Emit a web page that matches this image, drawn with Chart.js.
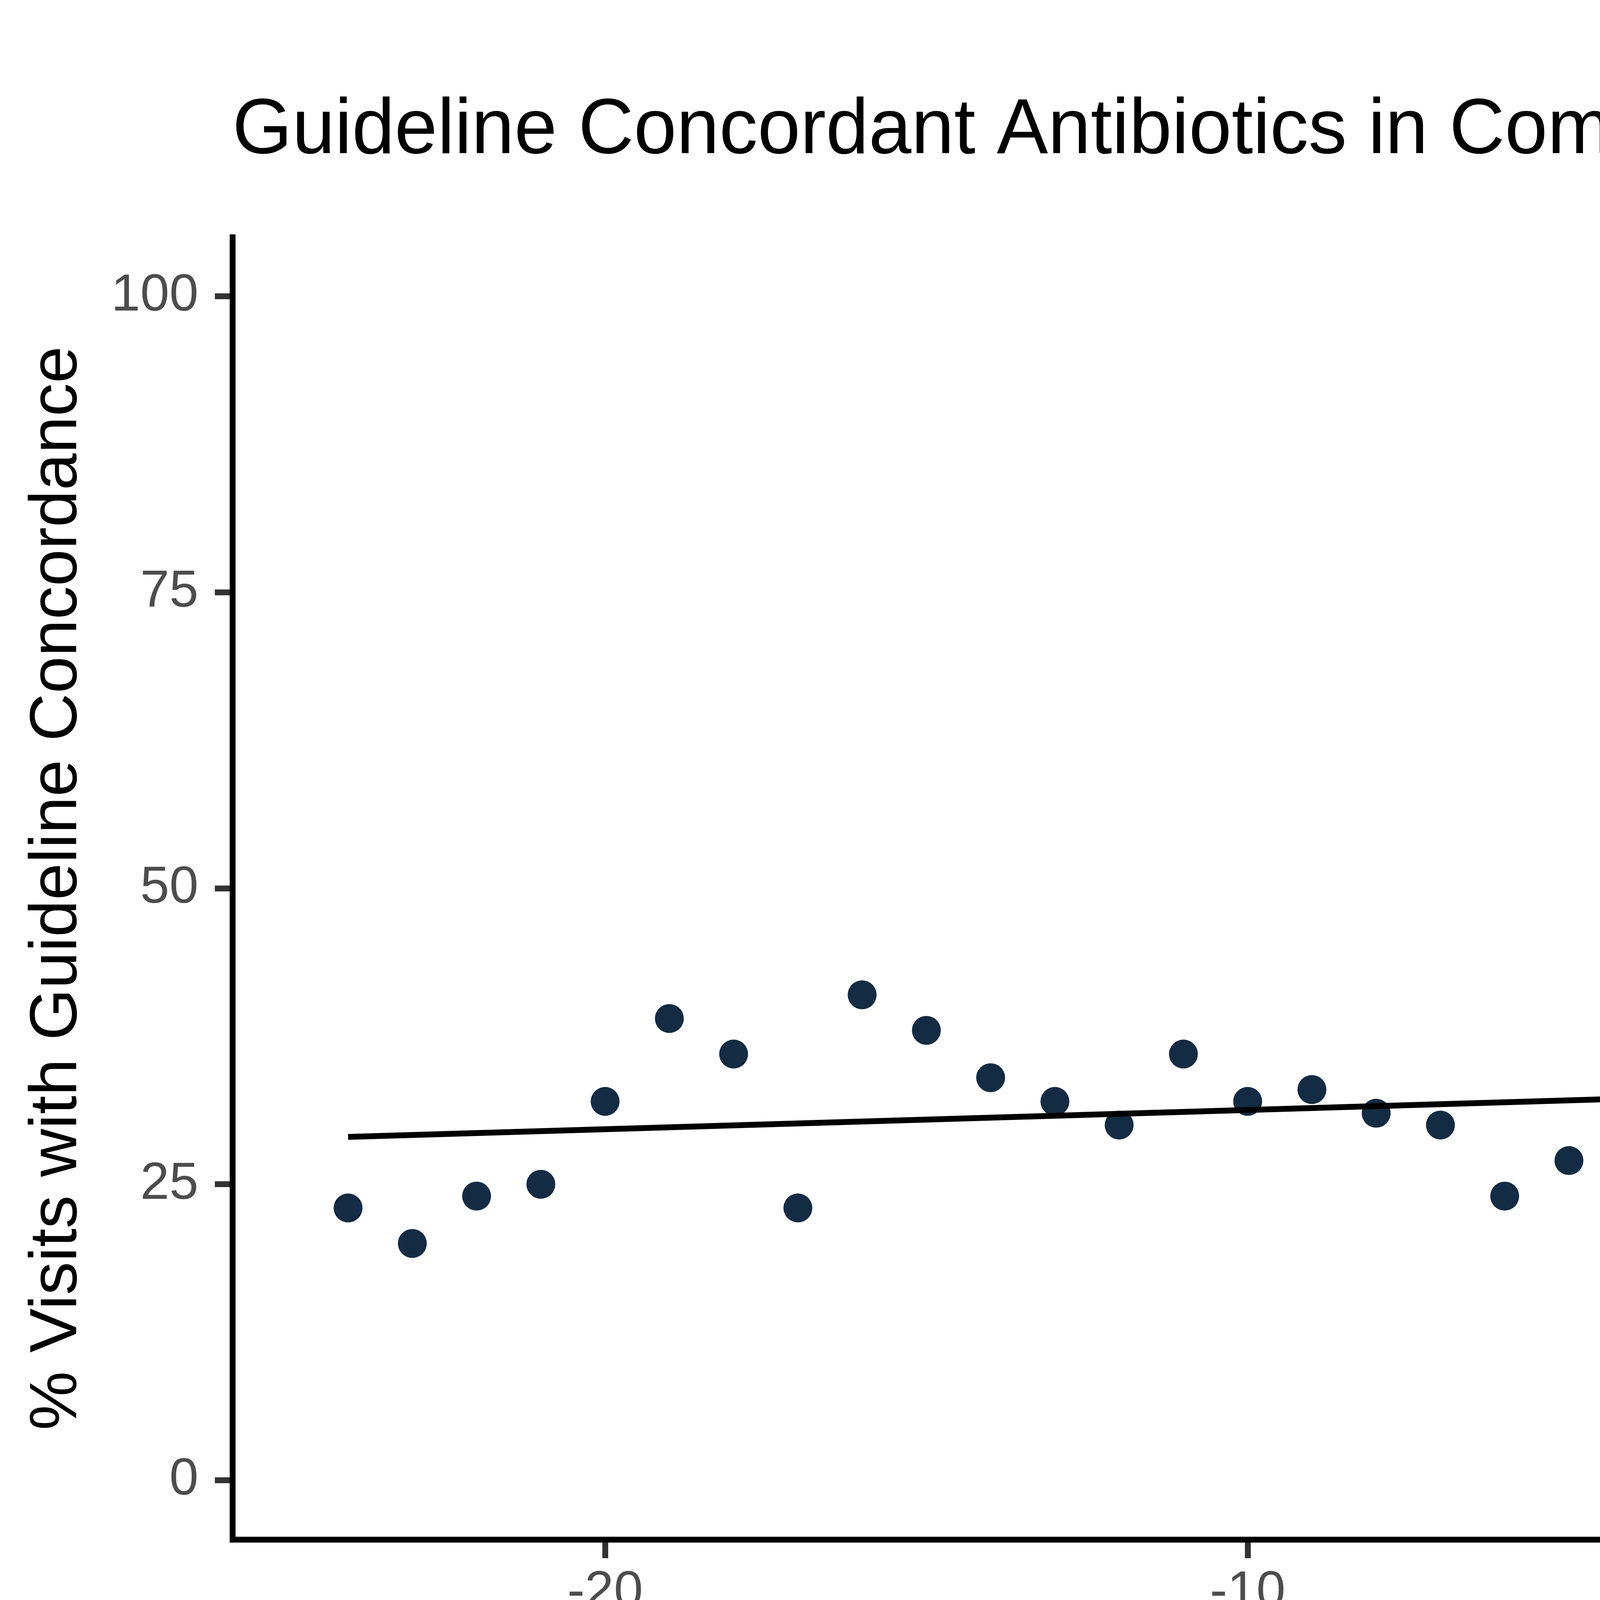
<!DOCTYPE html>
<html>
<head>
<meta charset="utf-8">
<script src="https://cdn.jsdelivr.net/npm/chart.js@4.4.1/dist/chart.umd.min.js"></script>
<style>
  html, body { margin: 0; padding: 0; background: #fff; overflow: hidden; }
  #wrap { width: 7200px; height: 4440px; }
  canvas { display: block; }
</style>
</head>
<body>
<div id="wrap"><canvas id="chart" width="7200" height="4440"></canvas></div>
<script>
// ---- data ----
const preX = [-24, -23, -22, -21, -20, -19, -18, -17, -16, -15, -14, -13, -12, -11, -10, -9, -8, -7, -6, -5, -4, -3, -2, -1, 0];
const preY = [23, 20, 24, 25, 32, 39, 36, 23, 41, 38, 34, 32, 30, 36, 32, 33, 31, 30, 24, 27, 33, 42, 39, 21, 27];
const postX = [1, 2, 3, 4, 5, 6, 7, 8, 9, 10, 11, 12];
const postY = [49, 30, 37, 35, 49, 44, 41, 35, 38, 35, 37, 32];

// fitted trend lines (end points)
const preFitX = [-24, 0];
const preFitY = [29.0, 32.9];
const postFitX = [1, 12];
const postFitY = [41.2, 36.0];

// intervention marker
const interventionX = 0;

const xTicks = [-20, -10, 0, 10];
const yTicks = [0, 25, 50, 75, 100];
const xRange = [-25.8, 13.8];
const yRange = [-5, 105];

const toPoints = (xs, ys) => xs.map((x, i) => ({ x: x, y: ys[i] }));

const FONT = "'Liberation Sans', Arial, sans-serif";

new Chart(document.getElementById("chart"), {
    type: "scatter",
    data: {
        datasets: [
            {
                type: "line",
                data: toPoints([interventionX, interventionX], [yRange[1], yRange[0]]),
                borderColor: "#000",
                borderWidth: 15,
                borderDash: [66, 70],
                borderCapStyle: "butt",
                pointRadius: 0,
                fill: false,
                clip: false
            },
            {
                type: "line",
                data: toPoints(preFitX, preFitY),
                borderColor: "#000",
                borderWidth: 15,
                pointRadius: 0,
                fill: false
            },
            {
                type: "line",
                data: toPoints(postFitX, postFitY),
                borderColor: "#000",
                borderWidth: 15,
                pointRadius: 0,
                fill: false
            },
            {
                data: toPoints(preX, preY),
                backgroundColor: "#132B43",
                borderWidth: 0,
                pointRadius: 37
            },
            {
                data: toPoints(postX, postY),
                backgroundColor: "#56B1F7",
                borderWidth: 0,
                pointRadius: 37
            }
        ]
    },
    options: {
        responsive: false,
        devicePixelRatio: 1,
        animation: false,
        layout: { padding: { left: 0, right: 91, top: 0, bottom: 0 } },
        plugins: {
            legend: { display: false },
            tooltip: { enabled: false },
            title: {
                display: true,
                text: "Guideline Concordant Antibiotics in Community Emergency Department #1",
                fullSize: false,
                color: "#000",
                font: { family: FONT, size: 200, weight: "normal", lineHeight: 1 },
                padding: { top: 237, bottom: 170 }
            }
        },
        scales: {
            x: {
                type: "linear",
                min: xRange[0],
                max: xRange[1],
                afterBuildTicks: (s) => { s.ticks = xTicks.map(v => ({ value: v })); },
                afterFit: (s) => { s.height = 499; },
                border: { display: true, color: "#000", width: 15 },
                grid: {
                    display: true,
                    drawOnChartArea: false,
                    drawTicks: true,
                    tickLength: 48,
                    tickWidth: 15,
                    tickColor: "#333333"
                },
                ticks: {
                    color: "#4D4D4D",
                    font: { family: FONT, size: 134, lineHeight: 1 },
                    padding: 22,
                    maxRotation: 0,
                    autoSkip: false
                },
                title: {
                    display: true,
                    text: "Time Relative to Intervention (2 Week Periods)",
                    color: "#000",
                    font: { family: FONT, size: 170, lineHeight: 1 },
                    padding: { top: 0, bottom: 94 }
                }
            },
            y: {
                type: "linear",
                min: yRange[0],
                max: yRange[1],
                afterBuildTicks: (s) => { s.ticks = yTicks.map(v => ({ value: v })); },
                afterFit: (s) => { s.width = 595; },
                border: { display: true, color: "#000", width: 15 },
                grid: {
                    display: true,
                    drawOnChartArea: false,
                    drawTicks: true,
                    tickLength: 45,
                    tickWidth: 15,
                    tickColor: "#333333"
                },
                ticks: {
                    color: "#4D4D4D",
                    font: { family: FONT, size: 134, lineHeight: 1 },
                    padding: 42,
                    autoSkip: false
                },
                title: {
                    display: true,
                    text: "% Visits with Guideline Concordance",
                    color: "#000",
                    font: { family: FONT, size: 170, lineHeight: 1 },
                    padding: { top: 63, bottom: 0 }
                }
            }
        }
    }
});
</script>
</body>
</html>
